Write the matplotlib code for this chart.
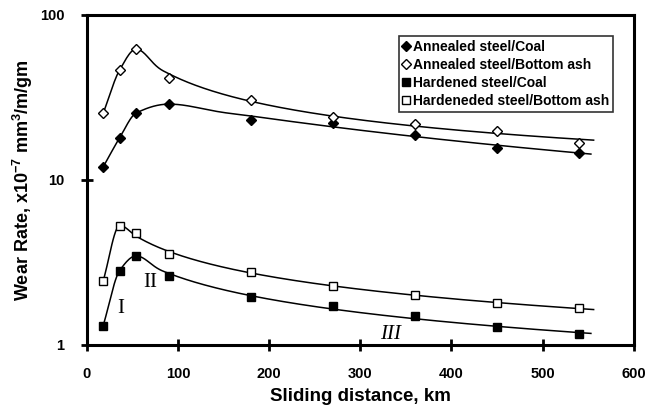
import numpy as np
import matplotlib.pyplot as plt

# wear rate (x1e-7 mm^3/m/gm) vs sliding distance
distance = [18, 36, 54, 90, 180, 270, 360, 450, 540]
annealed_coal = [12.0, 18.0, 25.4, 28.8, 23.1, 22.1, 18.7, 15.7, 14.6]
annealed_ash = [25.4, 46.4, 62.0, 41.3, 30.5, 24.2, 21.9, 19.9, 16.7]
hardened_coal = [1.31, 2.82, 3.46, 2.62, 1.94, 1.71, 1.49, 1.28, 1.16]
hardened_ash = [2.45, 5.28, 4.79, 3.56, 2.76, 2.26, 2.01, 1.79, 1.67]

labels = ["Annealed steel/Coal", "Annealed steel/Bottom ash",
          "Hardened steel/Coal", "Hardeneded steel/Bottom ash"]

plt.rcParams['font.family'] = ['Liberation Sans', 'DejaVu Sans']
plt.rcParams['mathtext.fontset'] = 'custom'
plt.rcParams['mathtext.bf'] = 'Liberation Sans:bold'
plt.rcParams['mathtext.rm'] = 'Liberation Sans:bold'
plt.rcParams['mathtext.default'] = 'bf'


def pchip(x, y, xs):
    # monotone cubic (Fritsch-Carlson)
    x = np.asarray(x, float)
    y = np.asarray(y, float)
    h = np.diff(x)
    d = np.diff(y) / h
    m = np.zeros_like(y)
    for k in range(1, len(x) - 1):
        if d[k-1] * d[k] > 0:
            w1 = 2*h[k] + h[k-1]
            w2 = h[k] + 2*h[k-1]
            m[k] = (w1 + w2) / (w1/d[k-1] + w2/d[k])
    m[0] = d[0]
    m[-1] = d[-1]
    k = np.clip(np.searchsorted(x, xs, side='right') - 1, 0, len(x) - 2)
    t = (xs - x[k]) / h[k]
    return ((2*t**3 - 3*t**2 + 1)*y[k] + (t**3 - 2*t**2 + t)*h[k]*m[k]
            + (-2*t**3 + 3*t**2)*y[k+1] + (t**3 - t**2)*h[k]*m[k+1])


def trend(x, y, xs):
    # rising part through the points, falling part as a smooth fit,
    # blended between the peak and the next point (all in log y)
    x = np.asarray(x, float)
    ly = np.log(np.asarray(y, float))
    ip = int(np.argmax(ly))
    rise = pchip(x[:ip+2], ly[:ip+2], xs)
    lx = np.log(x[ip:])
    p = np.polyfit(lx, ly[ip:], 2)
    fall = np.polyval(p, np.log(xs))
    w = np.clip((xs - x[ip]) / (x[ip+1] - x[ip]), 0, 1)
    w = w*w*(3 - 2*w)
    return np.exp((1 - w)*rise + w*fall)


fig = plt.figure(figsize=(6.48, 4.15), dpi=100)
ax = fig.add_axes([0.134, 0.169, 0.844, 0.795])

series = [
    (annealed_coal, 'D', 'black', 553),
    (annealed_ash, 'D', 'white', 556),
    (hardened_coal, 's', 'black', 553),
    (hardened_ash, 's', 'white', 556),
]
for (vals, mk, fc, xend), lab in zip(series, labels):
    xs = np.linspace(distance[0], xend, 400)
    ax.plot(xs, trend(distance, vals, xs), color='black', lw=1.1)
    ax.plot(distance, vals, ls='none', marker=mk, mfc=fc, mec='black',
            mew=1.0, ms=5 if mk == 'D' else 6, label=lab)

ax.set_yscale('log')
ax.set_xlim(0, 600)
ax.set_ylim(1, 100)
ax.set_xticks(range(0, 601, 100))
ax.set_yticks([1, 10, 100])
ax.set_yticklabels(['1', '10', '100'])
ax.minorticks_off()
ax.tick_params(direction='inout', length=8, width=2, labelsize=10.5, pad=12)
for lab in ax.get_xticklabels() + ax.get_yticklabels():
    lab.set_fontweight('bold')
for s in ax.spines.values():
    s.set_linewidth(2.2)

ax.set_xlabel("Sliding distance, km", fontsize=13.5, fontweight='bold', labelpad=5)
ax.set_ylabel("Wear Rate, x10$^{-7}$ mm$^{3}$/m/gm", fontsize=13,
              fontweight='bold', labelpad=4)

# stage labels
ax.text(33, 1.55, "I", family='Liberation Serif', fontsize=15)
ax.text(62, 2.25, "II", family='Liberation Serif', fontsize=15)
ax.text(322, 1.08, "III", family='Liberation Serif', fontsize=15, style='italic')

leg = ax.legend(loc='upper right', bbox_to_anchor=(0.962, 0.935), frameon=True,
                fancybox=False, edgecolor='black', handlelength=0.5,
                handletextpad=0.25, borderpad=0.25, labelspacing=0.3,
                borderaxespad=0.0, prop={'weight': 'bold', 'size': 10})
leg.get_frame().set_linewidth(1.2)

fig.savefig("out.png", dpi=100)
